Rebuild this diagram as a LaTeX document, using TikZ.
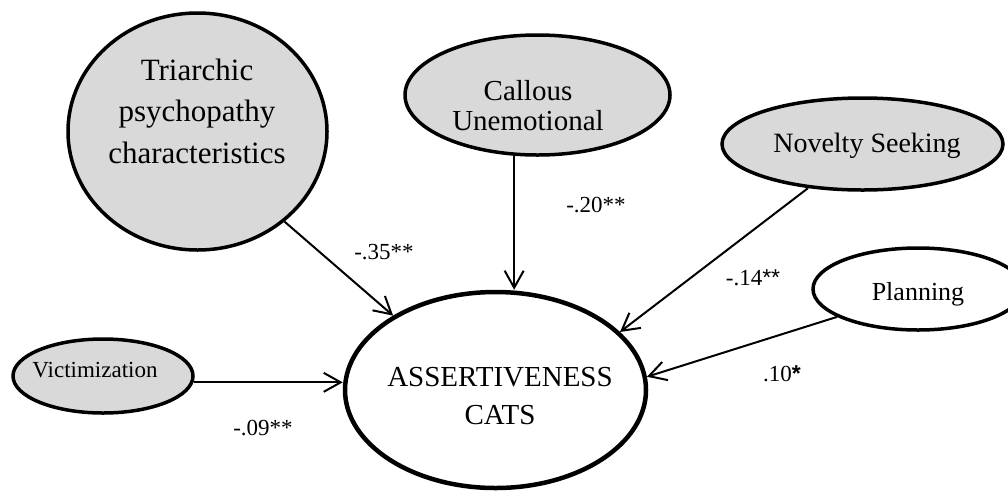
\documentclass[tikz,border=0pt]{standalone}
\usepackage{fontspec}
\setmainfont{Liberation Serif}
\newfontfamily\starfont{Liberation Sans}
\usetikzlibrary{shapes.geometric,arrows.meta}
\definecolor{factorgray}{HTML}{D9D9D9}

\begin{document}
\begin{tikzpicture}[x=1pt,y=-1pt,
  latent/.style={ellipse, draw=black, line width=3.5pt, fill=factorgray, inner sep=0pt},
  observed/.style={ellipse, draw=black, line width=3.5pt, fill=white, inner sep=0pt},
  outcome/.style={ellipse, draw=black, line width=4.5pt, fill=white, inner sep=0pt},
  caption/.style={inner sep=0pt, align=center},
  effect/.style={line width=2pt, -{Straight Barb[length=17pt,width=19pt]}},
  coef/.style={inner sep=0pt, font=\fontsize{23}{27}\selectfont}
]
\useasboundingbox (0,0) rectangle (1008,491);

% construct shapes
\node[latent, minimum width=259pt, minimum height=237pt] (tri) at (197.5,131.5) {};
\node[latent, minimum width=265pt, minimum height=120pt] (cal) at (537.5,95) {};
\node[latent, minimum width=281pt, minimum height=92pt] (nov) at (862.5,144) {};
\node[observed, minimum width=210pt, minimum height=82pt] (plan) at (918,289) {};
\node[latent, minimum width=180pt, minimum height=74pt] (vic) at (103,376) {};
\node[outcome, minimum width=301pt, minimum height=196pt] (main) at (495.5,390) {};

% construct names
\node[caption, font=\fontsize{31}{41.5}\selectfont] (tri-text) at (197,111) {Triarchic\\psychopathy\\characteristics};
\node[caption, font=\fontsize{29}{30}\selectfont] (cal-text) at (528,106) {Callous\\Unemotional};
\node[caption, font=\fontsize{28}{32}\selectfont] (nov-text) at (867,145.5) {Novelty Seeking};
\node[caption, font=\fontsize{26}{30}\selectfont] (plan-text) at (918,294) {Planning};
\node[caption, font=\fontsize{23}{27}\selectfont] (vic-text) at (95,370) {Victimization};
\node[caption, font=\fontsize{29}{38}\selectfont] (main-text) at (500,396) {ASSERTIVENESS\\CATS};

% paths
\draw[effect] (tri.-46) -- (main.144);
\draw[effect] (cal.-111) -- (cal.-111 |- main.north);
\draw[effect] (nov.-141) -- (main.25);
\draw[effect] (plan.-161) -- (main.5);
\draw[effect] (vic.-4) -- (vic.-4 -| main.west);

% standardized coefficients
\node[coef] (c-tri) at (384,252) {-.35**};
\node[coef] (c-cal) at (596,205) {-.20**};
\node[coef] (c-nov) at (753,278) {-.14{\starfont**}};
\node[coef] (c-plan) at (782,374) {.10{\starfont\bfseries *}};
\node[coef] (c-vic) at (263,428) {-.09**};
\end{tikzpicture}
\end{document}
